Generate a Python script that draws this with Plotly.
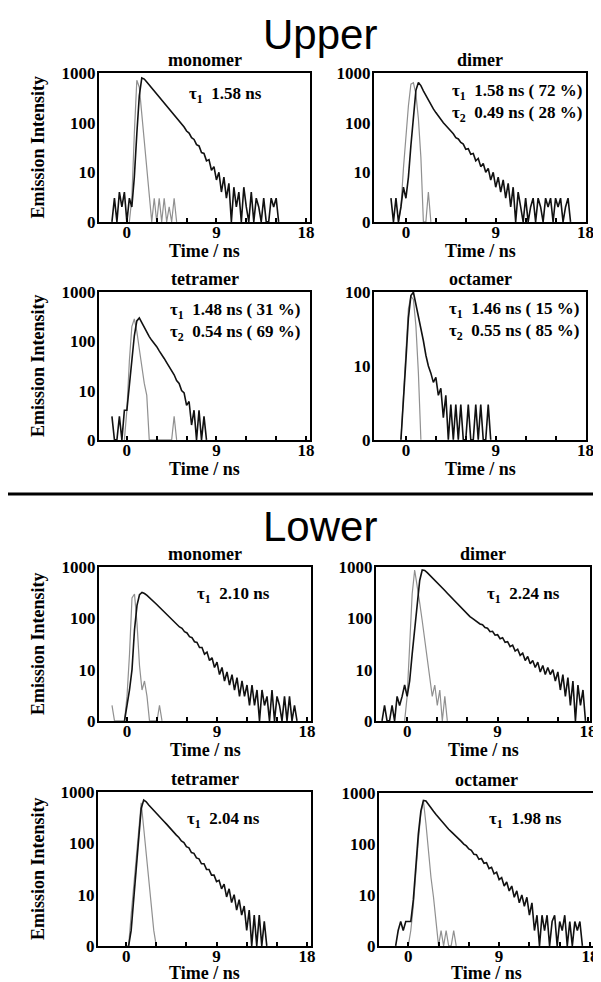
import numpy as np
import plotly.graph_objects as go
from plotly.subplots import make_subplots

# the page body keeps its default 8px margin, so the figure is laid out 8px in from the corner
OFF = 8
W, H = 601 - OFF, 982 - OFF
DT = 0.25  # ns per channel

# ---- data (counts per channel, 1 = empty channel / axis floor) ----
# Upper
um_t0 = -1.5
um_decay = [1, 3, 1, 4, 2, 4, 1, 3, 2, 8, 60, 350, 800, 760, 660, 575, 500, 440, 385, 330,
            290, 250, 215, 190, 160, 142, 122, 108, 92, 82, 68, 62, 50, 46, 36, 34, 25, 24,
            17, 18, 11, 13, 7, 10, 4, 8, 3, 6, 1, 5, 2, 4, 1, 5, 2, 1, 4, 1, 3, 2, 1, 3, 1,
            1, 3, 2, 3, 1]
um_irf_t0 = 0.25
um_irf = [1, 3, 60, 720, 520, 150, 45, 14, 4, 1, 3, 1, 3, 1, 3, 1, 2, 1, 3, 1]

ud_t0 = -1.5
ud_decay = [3, 1, 3, 1, 2, 5, 3, 8, 35, 150, 450, 650, 560, 440, 350, 280, 230, 190, 160,
            135, 115, 100, 88, 78, 66, 60, 50, 47, 40, 37, 29, 30, 23, 24, 17, 19, 13, 15,
            10, 12, 7, 10, 5, 8, 4, 7, 3, 6, 2, 5, 1, 4, 2, 1, 3, 1, 2, 3, 1, 3, 2, 1, 3, 2,
            3, 1, 3, 2, 3, 1, 2, 3, 1]
ud_irf_t0 = -0.75
ud_irf = [1, 2, 12, 60, 220, 600, 640, 380, 120, 20, 1, 1, 4, 1]

ut_t0 = -1.5
ut_decay = [3, 1, 1, 3, 1, 4, 4, 12, 45, 130, 260, 300, 240, 190, 150, 125, 105, 92, 78, 64,
            55, 45, 37, 31, 25, 21, 16, 14, 10, 9, 5, 6, 2, 4, 1, 4, 1, 3, 1]
ut_irf_t0 = -0.25
ut_irf = [1, 4, 40, 200, 285, 160, 70, 30, 14, 8, 1, 1, 1, 1, 1, 1, 1, 1, 1, 1, 3, 1]

uo_t0 = -0.5
uo_decay = [1, 3, 12, 45, 90, 100, 70, 48, 32, 22, 14, 10, 8, 6, 7, 4, 5, 2, 4, 1, 3, 1, 3,
            1, 3, 1, 1, 3, 1, 1, 3, 1, 3, 1, 1, 3, 1]
uo_irf_t0 = -0.5
uo_irf = [1, 4, 20, 60, 88, 80, 35, 8, 1]

# Lower
lm_t0 = -0.25
lm_decay = [1, 2, 4, 10, 60, 180, 290, 320, 305, 280, 255, 230, 205, 185, 165, 148, 132, 118,
            105, 96, 86, 78, 68, 64, 55, 52, 44, 42, 35, 34, 27, 27, 20, 22, 15, 17, 11, 14,
            8, 11, 6, 9, 5, 8, 4, 7, 3, 6, 3, 5, 2, 5, 2, 4, 1, 4, 2, 3, 1, 4, 1, 3, 2, 1, 3,
            1, 3, 1, 2, 1]
lm_irf_t0 = -1.5
lm_irf = [2, 1, 1, 1, 1, 1, 3, 20, 250, 300, 80, 12, 4, 6, 3, 1, 1, 1, 1, 2, 1]

ld_t0 = -2.5
ld_decay = [1, 2, 1, 1, 2, 1, 3, 2, 3, 5, 3, 6, 20, 60, 200, 550, 880, 860, 780, 700, 620,
            560, 500, 445, 400, 350, 310, 275, 245, 215, 190, 170, 150, 135, 120, 108, 100,
            92, 88, 78, 75, 66, 64, 55, 56, 47, 48, 40, 42, 34, 35, 28, 30, 23, 25, 19, 21,
            15, 18, 13, 15, 11, 14, 9, 12, 8, 11, 8, 10, 6, 9, 4, 8, 3, 7, 2, 6, 1, 5, 2, 4, 1]
ld_irf_t0 = -0.25
ld_irf = [1, 3, 30, 300, 880, 450, 200, 90, 40, 18, 8, 3, 5, 2, 4, 1, 3, 1]

lt_t0 = 0.25
lt_decay = [1, 2, 8, 35, 140, 480, 700, 650, 560, 500, 440, 390, 345, 305, 270, 240, 210, 185,
            165, 145, 130, 112, 104, 86, 82, 66, 64, 52, 50, 40, 40, 31, 31, 24, 24, 18, 19,
            13, 16, 9, 13, 7, 10, 5, 8, 4, 6, 2, 5, 1, 4, 1, 4, 1, 3, 1]
lt_irf_t0 = 0.0
lt_irf = [1, 1, 4, 13, 45, 160, 620, 200, 60, 18, 5, 2, 1]

lo_t0 = -1.25
lo_decay = [1, 2, 3, 2, 3, 3, 3, 8, 40, 160, 450, 720, 700, 590, 510, 440, 380, 330, 290, 250,
            220, 195, 175, 158, 140, 125, 113, 100, 92, 80, 75, 63, 62, 50, 52, 42, 43, 33,
            35, 26, 28, 20, 22, 15, 18, 12, 15, 9, 12, 7, 10, 6, 9, 4, 7, 2, 4, 1, 4, 2, 4,
            1, 3, 4, 1, 3, 2, 4, 1, 3, 1, 3, 2, 3, 1]
lo_irf_t0 = 0.0
lo_irf = [1, 2, 6, 30, 120, 400, 700, 250, 70, 22, 9, 3, 1, 2, 1, 2, 1, 1, 2, 1]

panel_names = ["monomer", "dimer", "tetramer", "octamer",
               "monomer", "dimer", "tetramer", "octamer"]
tau_texts = [
    "τ<sub>1</sub>  1.58 ns",
    "τ<sub>1</sub>  1.58 ns ( 72 %)<br>τ<sub>2</sub>  0.49 ns ( 28 %)",
    "τ<sub>1</sub>  1.48 ns ( 31 %)<br>τ<sub>2</sub>  0.54 ns ( 69 %)",
    "τ<sub>1</sub>  1.46 ns ( 15 %)<br>τ<sub>2</sub>  0.55 ns ( 85 %)",
    "τ<sub>1</sub>  2.10 ns",
    "τ<sub>1</sub>  2.24 ns",
    "τ<sub>1</sub>  2.04 ns",
    "τ<sub>1</sub>  1.98 ns",
]
decays = [(um_t0, um_decay), (ud_t0, ud_decay), (ut_t0, ut_decay), (uo_t0, uo_decay),
          (lm_t0, lm_decay), (ld_t0, ld_decay), (lt_t0, lt_decay), (lo_t0, lo_decay)]
irfs = [(um_irf_t0, um_irf), (ud_irf_t0, ud_irf), (ut_irf_t0, ut_irf), (uo_irf_t0, uo_irf),
        (lm_irf_t0, lm_irf), (ld_irf_t0, ld_irf), (lt_irf_t0, lt_irf), (lo_irf_t0, lo_irf)]
y_top = [3, 3, 3, 2, 3, 3, 3, 3]
x_labels = [0, 9, 18]
x_minor = [3, 6, 12, 15]
y_tickvals = [1, 10, 100, 1000]
y_ticktext = ["0", "10", "100", "1000"]

# ---- layout in reference pixels: (left, right, top, bottom), x range ----
boxes = [(99, 310, 73, 222), (374, 586, 73, 222),
         (99, 310, 292, 440), (374, 586, 292, 440),
         (99, 311, 567, 721), (376, 590, 567, 721),
         (98, 311, 792, 946), (379, 593, 793, 946)]
xranges = [(-2.8, 18.4), (-3.2, 18.05), (-2.8, 18.4), (-3.2, 18.05),
           (-2.8, 18.4), (-3.1, 18.2), (-2.8, 18.4), (-2.9, 18.3)]
tau_pos = [(187, 95), (450, 103), (168, 322), (447, 321),
           (195, 595), (485, 595), (185, 820), (487, 820)]

SERIF = "Liberation Serif"
def px(x): return (x - OFF) / W
def py(y): return 1 - (y - OFF) / H
def times(t0, n): return t0 + DT * np.arange(n)
def bold(size): return dict(family=SERIF, size=size, color="black", weight="bold")

fig = make_subplots(rows=4, cols=2)
ann = []
for i in range(8):
    r, c = i // 2 + 1, i % 2 + 1
    t0, irf = irfs[i]
    fig.add_trace(go.Scatter(x=times(t0, len(irf)), y=irf, mode="lines",
                             line=dict(color="#909090", width=1.2), showlegend=False), row=r, col=c)
    t0, dec = decays[i]
    fig.add_trace(go.Scatter(x=times(t0, len(dec)), y=dec, mode="lines",
                             line=dict(color="#111111", width=1.6), showlegend=False), row=r, col=c)
    x0, x1, yt, yb = boxes[i]
    fig.update_xaxes(domain=[px(x0), px(x1)], range=list(xranges[i]),
                     tickmode="array", tickvals=x_labels, ticks="inside", ticklen=4,
                     tickwidth=1.5, tickcolor="black", ticklabelstandoff=-6,
                     minor=dict(tickmode="array", tickvals=x_minor, ticks="inside", ticklen=4,
                                tickwidth=1.5, tickcolor="black"),
                     showline=True, mirror=True, linecolor="black", linewidth=2,
                     showgrid=False, zeroline=False, tickfont=bold(17),
                     row=r, col=c)
    fig.update_yaxes(type="log", domain=[py(yb), py(yt)], range=[-0.003, y_top[i] + 0.003],
                     tickvals=y_tickvals, ticktext=y_ticktext, ticks="", ticklabelstandoff=-2,
                     showline=True, mirror=True, linecolor="black", linewidth=2,
                     showgrid=False, zeroline=False, tickfont=bold(17),
                     row=r, col=c)
    ann.append(dict(x=px((x0 + x1) / 2), y=py(yt - 13), text=panel_names[i],
                    xanchor="center", yanchor="middle", font=bold(18)))
    ann.append(dict(x=px((x0 + x1) / 2), y=py(yb + 29 if yb < 900 else yb + 27),
                    text="Time / ns", xanchor="center", yanchor="middle", font=bold(18)))
    tx, ty = tau_pos[i]
    ann.append(dict(x=px(tx), y=py(ty), text=tau_texts[i],
                    xanchor="left", yanchor="middle", align="left", font=bold(17)))
    if c == 1:
        ann.append(dict(x=px(38), y=py((yt + yb) / 2), text="Emission Intensity",
                        textangle=-90, xanchor="center", yanchor="middle", font=bold(18)))

ann.append(dict(x=px(320), y=py(34), text="Upper", xanchor="center", yanchor="middle",
                font=dict(family="Liberation Sans", size=42, color="black")))
ann.append(dict(x=px(320), y=py(526), text="Lower", xanchor="center", yanchor="middle",
                font=dict(family="Liberation Sans", size=42, color="black")))
for a in ann:
    a.update(xref="paper", yref="paper", showarrow=False)

fig.update_layout(
    width=W, height=H, margin=dict(l=0, r=0, t=0, b=0, autoexpand=False),
    paper_bgcolor="white", plot_bgcolor="white", showlegend=False,
    annotations=ann,
    shapes=[dict(type="line", xref="paper", yref="paper", x0=px(OFF), x1=1,
                 y0=py(494), y1=py(494), line=dict(color="black", width=3))],
)

fig.write_html("out.html")
